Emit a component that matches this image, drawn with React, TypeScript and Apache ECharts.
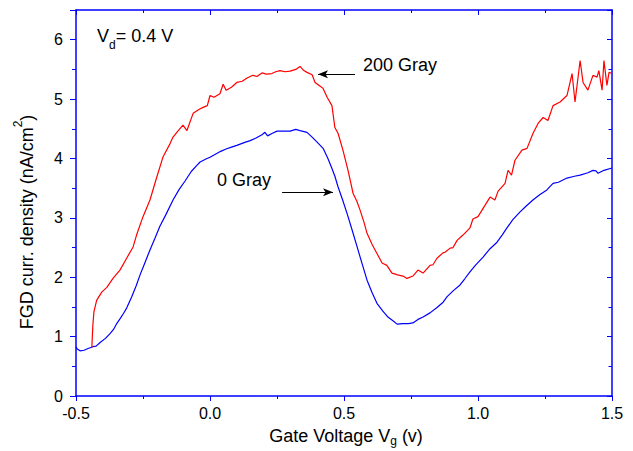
import React, { useEffect, useRef } from "react";
import * as echarts from "echarts";

// Gate voltage (V) and FGD current density (nA/cm^2), 0 Gray curve
const gray0Volt = [
  -0.5, -0.495, -0.485, -0.47, -0.455, -0.437, -0.425, -0.41, -0.39, -0.373, -0.36, -0.348, -0.336,
  -0.323, -0.311, -0.292, -0.275, -0.261, -0.245, -0.224, -0.205, -0.187, -0.165, -0.138, -0.115,
  -0.093, -0.07, -0.05, -0.037, -0.015, 0.0, 0.02, 0.04, 0.06, 0.08, 0.1, 0.13, 0.15, 0.17, 0.194,
  0.205, 0.215, 0.231, 0.25, 0.27, 0.299, 0.32, 0.336, 0.362, 0.381, 0.405, 0.422, 0.44, 0.455,
  0.466, 0.478, 0.495, 0.511, 0.53, 0.549, 0.568, 0.586, 0.605, 0.623, 0.645, 0.664, 0.685, 0.698,
  0.72, 0.74, 0.757, 0.776, 0.795, 0.821, 0.847, 0.87, 0.884, 0.907, 0.933, 0.95, 0.97, 0.99, 1.019,
  1.045, 1.071, 1.09, 1.108, 1.13, 1.157, 1.18, 1.205, 1.23, 1.257, 1.28, 1.3, 1.332, 1.36, 1.381,
  1.41, 1.429, 1.44, 1.448, 1.47, 1.5,
];
const gray0Curr = [
  0.83, 0.79, 0.76, 0.77, 0.8, 0.83, 0.84, 0.9, 0.97, 1.05, 1.12, 1.22, 1.3, 1.39, 1.48, 1.67, 1.86,
  2.04, 2.22, 2.46, 2.66, 2.86, 3.05, 3.3, 3.48, 3.62, 3.78, 3.88, 3.94, 3.99, 4.02, 4.07, 4.12,
  4.16, 4.19, 4.22, 4.27, 4.3, 4.34, 4.4, 4.44, 4.38, 4.42, 4.46, 4.46, 4.46, 4.49, 4.47, 4.44,
  4.36, 4.25, 4.17, 4.0, 3.83, 3.7, 3.52, 3.3, 3.08, 2.8, 2.51, 2.22, 1.95, 1.74, 1.56, 1.43, 1.33,
  1.26, 1.21, 1.22, 1.22, 1.23, 1.29, 1.33, 1.4, 1.49, 1.58, 1.67, 1.77, 1.87, 1.97, 2.09, 2.2,
  2.34, 2.48, 2.59, 2.71, 2.83, 2.97, 3.1, 3.2, 3.3, 3.39, 3.47, 3.58, 3.6, 3.67, 3.7, 3.72, 3.76,
  3.8, 3.79, 3.75, 3.8, 3.84,
];

// 200 Gray curve
const gray200Volt = [
  -0.441, -0.437, -0.433, -0.423, -0.404, -0.385, -0.362, -0.336, -0.311, -0.287, -0.274, -0.25,
  -0.224, -0.201, -0.175, -0.149, -0.138, -0.12, -0.101, -0.086, -0.063, -0.04, -0.026, -0.01, 0.0,
  0.015, 0.037, 0.049, 0.06, 0.08, 0.1, 0.12, 0.14, 0.16, 0.175, 0.194, 0.21, 0.231, 0.245, 0.261,
  0.28, 0.299, 0.32, 0.336, 0.35, 0.362, 0.381, 0.392, 0.41, 0.422, 0.437, 0.455, 0.466, 0.478,
  0.496, 0.515, 0.534, 0.548, 0.56, 0.575, 0.586, 0.605, 0.623, 0.642, 0.66, 0.679, 0.7, 0.72,
  0.735, 0.757, 0.776, 0.795, 0.821, 0.832, 0.847, 0.869, 0.877, 0.896, 0.907, 0.922, 0.944, 0.97,
  0.981, 1.0, 1.015, 1.045, 1.063, 1.075, 1.101, 1.112, 1.125, 1.138, 1.164, 1.183, 1.205, 1.224,
  1.243, 1.261, 1.28, 1.306, 1.332, 1.351, 1.362, 1.381, 1.392, 1.41, 1.429, 1.444, 1.451, 1.463,
  1.47, 1.481, 1.489, 1.5,
];
const gray200Curr = [
  0.81, 1.2, 1.42, 1.61, 1.75, 1.83, 1.98, 2.12, 2.32, 2.51, 2.71, 3.02, 3.3, 3.65, 4.03, 4.25, 4.36,
  4.46, 4.56, 4.47, 4.76, 4.83, 4.86, 4.89, 5.06, 5.03, 5.09, 5.25, 5.15, 5.2, 5.28, 5.3, 5.36, 5.4,
  5.38, 5.44, 5.42, 5.43, 5.46, 5.48, 5.46, 5.47, 5.5, 5.55, 5.48, 5.45, 5.41, 5.28, 5.22, 5.18,
  5.03, 4.89, 4.52, 4.42, 4.14, 3.8, 3.41, 3.28, 3.13, 2.92, 2.74, 2.55, 2.4, 2.24, 2.2, 2.07, 2.04,
  2.02, 1.98, 2.02, 2.12, 2.07, 2.2, 2.21, 2.32, 2.41, 2.42, 2.49, 2.5, 2.62, 2.71, 2.83, 2.98,
  3.02, 3.13, 3.35, 3.3, 3.45, 3.58, 3.8, 3.72, 3.97, 4.14, 4.17, 4.42, 4.59, 4.69, 4.64, 4.89,
  4.95, 5.06, 5.43, 4.95, 5.65, 5.28, 5.15, 5.4, 5.37, 5.48, 5.15, 5.65, 5.23, 5.45, 5.43,
];

const xTicks = { min: -0.5, max: 1.5, interval: 0.5 };
const yTicks = { min: 0, max: 6.5, interval: 1 };

// annotation arrows (data coordinates)
const arrow200 = { from: [0.541, 5.416], to: [0.403, 5.416] };
const arrow0 = { from: [0.269, 3.43], to: [0.459, 3.43] };

const FONT = "'Liberation Sans', Arial, Helvetica, sans-serif";
const BLUE = "#0000ff";

const zip = (xs: number[], ys: number[]) => xs.map((x, i) => [x, ys[i]]);

export default function App() {
  const ref = useRef<HTMLDivElement>(null);
  useEffect(() => {
    if (!ref.current) return;
    const chart = echarts.init(ref.current, undefined, { renderer: "svg" });
    const axisLine = { onZero: false, lineStyle: { color: BLUE, width: 1.5 } };
    const tickStyle = { color: BLUE, width: 1 };
    const baseText = { fontFamily: FONT, fontSize: 18, fill: "#000" };
    const rich = {
      a: { fontFamily: FONT, fontSize: 18, color: "#000", lineHeight: 30 },
      s: { fontFamily: FONT, fontSize: 12, color: "#000", lineHeight: 30, verticalAlign: "bottom" },
      p: { fontFamily: FONT, fontSize: 12, color: "#000", lineHeight: 30, verticalAlign: "top" },
    };
    const richX = {
      a: { fontFamily: FONT, fontSize: 18, color: "#000", lineHeight: 22 },
      s: { fontFamily: FONT, fontSize: 12, color: "#000", lineHeight: 22, verticalAlign: "bottom" },
    };
    const arrowLine = (a: { from: number[]; to: number[] }) => ({
      silent: true,
      symbol: ["none", "arrow"],
      symbolSize: [6, 10],
      label: { show: false },
      emphasis: { disabled: true },
      lineStyle: { color: "#000", width: 1, type: "solid" },
      data: [[{ coord: a.from }, { coord: a.to }]],
    });
    chart.setOption({
      animation: false,
      grid: { left: 76, right: 21, top: 10, bottom: 55 },
      xAxis: [
        {
          type: "value",
          ...xTicks,
          position: "bottom",
          axisLine,
          axisTick: { inside: false, length: 5, lineStyle: tickStyle },
          minorTick: { show: true, splitNumber: 2, length: 3, lineStyle: tickStyle },
          splitLine: { show: false },
          axisLabel: {
            color: "#000",
            fontSize: 16,
            fontFamily: FONT,
            margin: 9,
            formatter: (v: number) => v.toFixed(1),
          },
        },
        {
          type: "value",
          ...xTicks,
          position: "top",
          axisLine,
          axisTick: { inside: true, length: 5, lineStyle: tickStyle },
          minorTick: { show: true, splitNumber: 2, length: 3, lineStyle: tickStyle },
          splitLine: { show: false },
          axisLabel: { show: false },
        },
      ],
      yAxis: [
        {
          type: "value",
          ...yTicks,
          position: "left",
          axisLine,
          axisTick: { inside: false, length: 6, lineStyle: tickStyle },
          minorTick: { show: true, splitNumber: 2, length: 4, lineStyle: tickStyle },
          splitLine: { show: false },
          axisLabel: {
            color: "#000",
            fontSize: 16,
            fontFamily: FONT,
            margin: 13,
            formatter: (v: number) => (Math.abs(v - Math.round(v)) < 1e-9 ? String(Math.round(v)) : ""),
          },
        },
        {
          type: "value",
          ...yTicks,
          position: "right",
          axisLine,
          axisTick: { inside: true, length: 5, lineStyle: tickStyle },
          minorTick: { show: true, splitNumber: 2, length: 3.5, lineStyle: tickStyle },
          splitLine: { show: false },
          axisLabel: { show: false },
        },
      ],
      series: [
        {
          name: "0 Gray",
          type: "line",
          xAxisIndex: 0,
          yAxisIndex: 0,
          data: zip(gray0Volt, gray0Curr),
          showSymbol: false,
          lineStyle: { color: BLUE, width: 1.2 },
          itemStyle: { color: BLUE },
          markLine: arrowLine(arrow0),
        },
        {
          name: "200 Gray",
          type: "line",
          xAxisIndex: 0,
          yAxisIndex: 0,
          data: zip(gray200Volt, gray200Curr),
          showSymbol: false,
          lineStyle: { color: "#ff0000", width: 1.2 },
          itemStyle: { color: "#ff0000" },
          markLine: arrowLine(arrow200),
        },
      ],
      graphic: [
        {
          type: "text",
          x: 97,
          y: 36,
          style: { ...baseText, text: "{a|V}{s|d}{a|= 0.4 V}", rich, verticalAlign: "middle", align: "left" },
        },
        {
          type: "text",
          x: 363,
          y: 65,
          style: { ...baseText, text: "200 Gray", verticalAlign: "middle", align: "left" },
        },
        {
          type: "text",
          x: 217,
          y: 180,
          style: { ...baseText, text: "0 Gray", verticalAlign: "middle", align: "left" },
        },
        {
          type: "text",
          x: 346,
          y: 436,
          style: { ...baseText, text: "{a|Gate Voltage V}{s|g}{a| (v)}", rich: richX, verticalAlign: "middle", align: "center" },
        },
        {
          type: "text",
          x: 27,
          y: 222,
          rotation: Math.PI / 2,
          style: {
            ...baseText,
            text: "{a|FGD curr. density (nA/cm}{p|2}{a|)}",
            rich,
            verticalAlign: "middle",
            align: "center",
          },
        },
      ],
    });
    return () => chart.dispose();
  }, []);
  return <div ref={ref} style={{ width: 633, height: 451, position: "absolute", left: 0, top: 0 }} />;
}
